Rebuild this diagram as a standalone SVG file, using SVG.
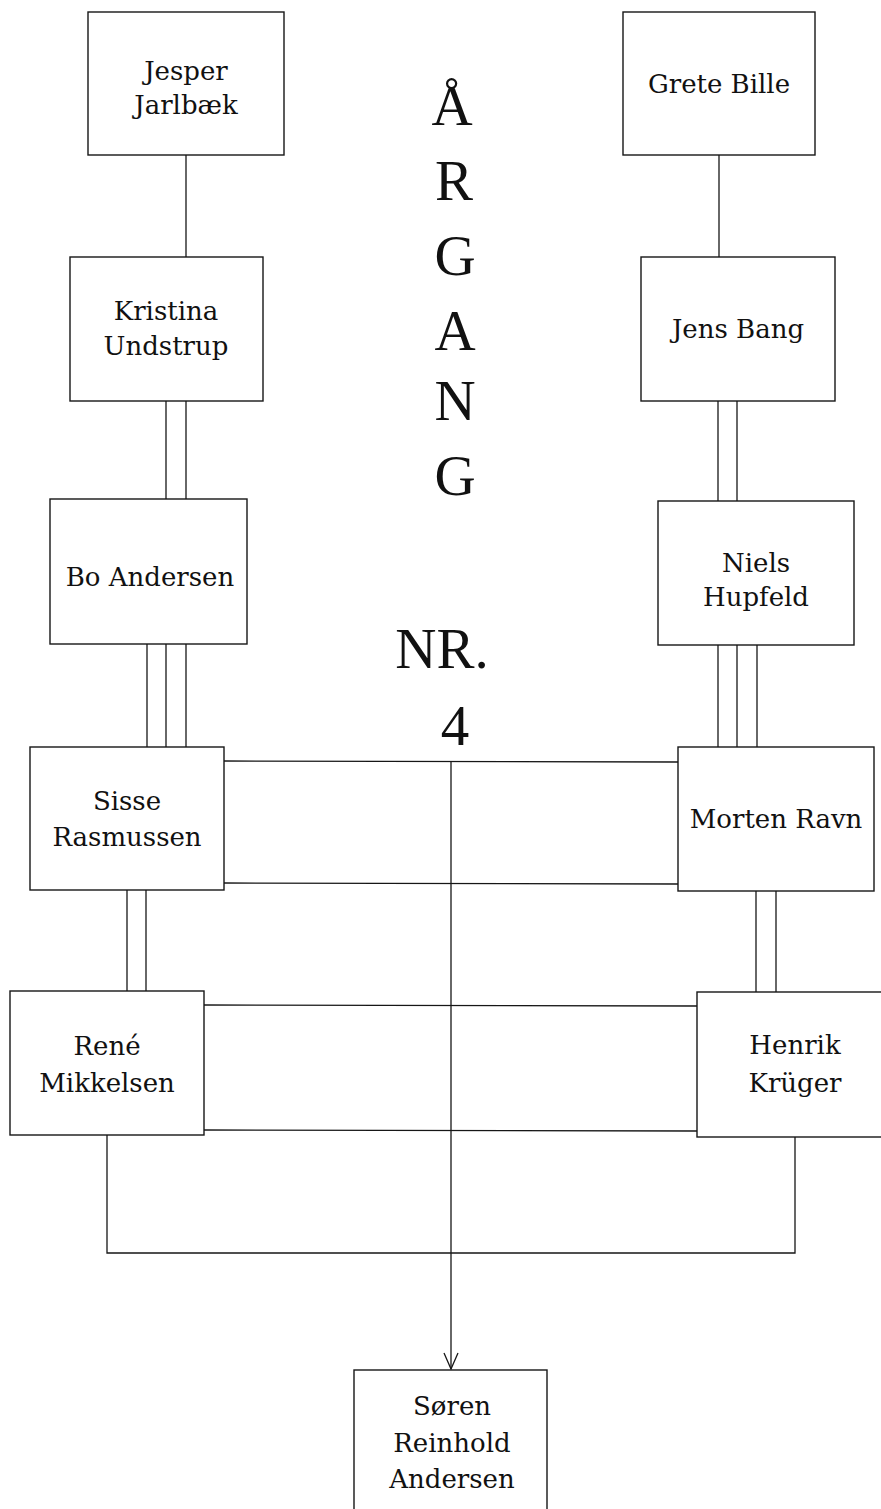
<svg xmlns="http://www.w3.org/2000/svg" width="881" height="1509" viewBox="0 0 881 1509">
<style>
.box{fill:#fff;stroke:#161616;stroke-width:1.4}
.ln{fill:none;stroke:#161616;stroke-width:1.3}
.t{font-family:"DejaVu Serif",serif;font-size:26px;fill:#111;text-anchor:middle}
.title{font-family:"Liberation Serif",serif;font-size:57px;fill:#111;text-anchor:middle}
</style>
<defs>
<marker id="v" viewBox="0 0 18 16" refX="17" refY="8" markerWidth="18" markerHeight="16" markerUnits="userSpaceOnUse" orient="auto">
<path d="M1,1 L17,8 L1,15" fill="none" stroke="#161616" stroke-width="1.3"/>
</marker>
</defs>
<rect width="881" height="1509" fill="#fff"/>
<g id="connectors">
<line class="ln" x1="186" y1="155" x2="186" y2="257"/>
<line class="ln" x1="719" y1="155" x2="719" y2="257"/>
<line class="ln" x1="166" y1="401" x2="166" y2="499"/>
<line class="ln" x1="186" y1="401" x2="186" y2="499"/>
<line class="ln" x1="718" y1="401" x2="718" y2="501"/>
<line class="ln" x1="737" y1="401" x2="737" y2="501"/>
<line class="ln" x1="147" y1="644" x2="147" y2="747"/>
<line class="ln" x1="166" y1="644" x2="166" y2="747"/>
<line class="ln" x1="186" y1="644" x2="186" y2="747"/>
<line class="ln" x1="718" y1="645" x2="718" y2="747"/>
<line class="ln" x1="737" y1="645" x2="737" y2="747"/>
<line class="ln" x1="757" y1="645" x2="757" y2="747"/>
<line class="ln" x1="127" y1="890" x2="127" y2="991"/>
<line class="ln" x1="146" y1="890" x2="146" y2="991"/>
<line class="ln" x1="756" y1="891" x2="756" y2="992"/>
<line class="ln" x1="776" y1="891" x2="776" y2="992"/>
<line class="ln" x1="224" y1="761" x2="678" y2="762"/>
<line class="ln" x1="224" y1="883" x2="678" y2="884"/>
<line class="ln" x1="204" y1="1005" x2="697" y2="1006"/>
<line class="ln" x1="204" y1="1130" x2="697" y2="1131"/>
<polyline class="ln" points="107,1135 107,1253 795,1253 795,1137"/>
<line class="ln" x1="451" y1="761" x2="451" y2="1369" marker-end="url(#v)"/>
</g>
<g id="title">
<text class="title" x="452" y="125">Å</text>
<text class="title" x="454" y="200">R</text>
<text class="title" x="455" y="275">G</text>
<text class="title" x="455" y="350">A</text>
<text class="title" x="455" y="420">N</text>
<text class="title" x="455" y="495">G</text>
<text class="title" x="442" y="668">NR.</text>
<text class="title" x="455" y="745">4</text>
</g>
<g id="jesper"><rect class="box" x="88" y="12" width="196" height="143"/><text class="t" x="186" y="80">Jesper</text><text class="t" x="186" y="114">Jarlbæk</text></g>
<g id="grete"><rect class="box" x="623" y="12" width="192" height="143"/><text class="t" x="719" y="93">Grete Bille</text></g>
<g id="kristina"><rect class="box" x="70" y="257" width="193" height="144"/><text class="t" x="166" y="320">Kristina</text><text class="t" x="166" y="355">Undstrup</text></g>
<g id="jens"><rect class="box" x="641" y="257" width="194" height="144"/><text class="t" x="738" y="338">Jens Bang</text></g>
<g id="bo"><rect class="box" x="50" y="499" width="197" height="145"/><text class="t" x="150" y="586">Bo Andersen</text></g>
<g id="niels"><rect class="box" x="658" y="501" width="196" height="144"/><text class="t" x="756" y="572">Niels</text><text class="t" x="756" y="606">Hupfeld</text></g>
<g id="sisse"><rect class="box" x="30" y="747" width="194" height="143"/><text class="t" x="127" y="810">Sisse</text><text class="t" x="127" y="846">Rasmussen</text></g>
<g id="morten"><rect class="box" x="678" y="747" width="196" height="144"/><text class="t" x="776" y="828">Morten Ravn</text></g>
<g id="rene"><rect class="box" x="10" y="991" width="194" height="144"/><text class="t" x="107" y="1055">René</text><text class="t" x="107" y="1092">Mikkelsen</text></g>
<g id="henrik"><rect class="box" x="697" y="992" width="196" height="145"/><text class="t" x="795" y="1054">Henrik</text><text class="t" x="795" y="1092">Krüger</text></g>
<g id="soren"><rect class="box" x="354" y="1370" width="193" height="150"/><text class="t" x="452" y="1415">Søren</text><text class="t" x="452" y="1452">Reinhold</text><text class="t" x="452" y="1488">Andersen</text></g>
</svg>
